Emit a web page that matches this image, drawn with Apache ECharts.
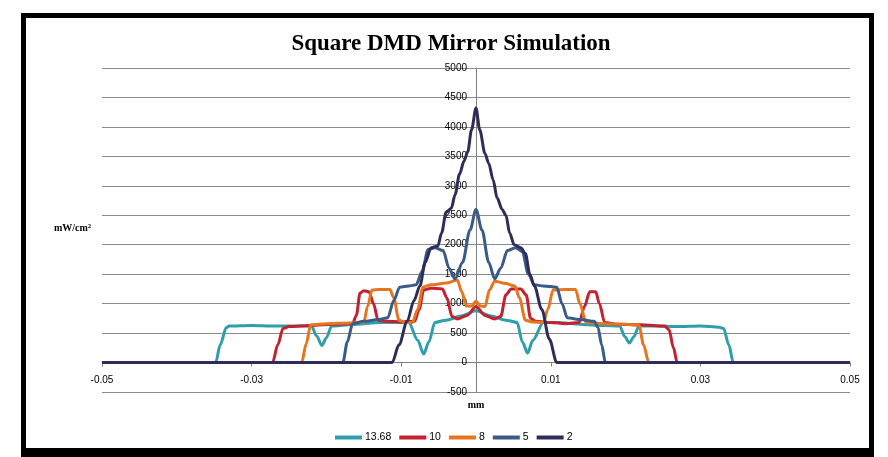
<!DOCTYPE html>
<html>
<head>
<meta charset="utf-8">
<script src="https://cdn.jsdelivr.net/npm/echarts@6/dist/echarts.min.js"></script>
<style>
html,body{margin:0;padding:0;background:#fff;}
#chart{width:888px;height:457px;}
</style>
</head>
<body>
<div id="chart"></div>
<script>
// ---- data (x in mm, y in mW/cm²) ----
const seriesNames = ['13.68', '10', '8', '5', '2'];
const xTickLabels = [-0.05, -0.03, -0.01, 0.01, 0.03, 0.05];

const s1368_x = [-0.05, -0.0348, -0.0342, -0.0334, -0.033, -0.030, -0.027, -0.024, -0.022, -0.0213, -0.0206, -0.0200, -0.0193, -0.017, -0.015, -0.013, -0.011, -0.009, -0.0078, -0.0070, -0.0063, -0.0055, -0.004, -0.002, 0,
                 0.002, 0.004, 0.0055, 0.0062, 0.0069, 0.0076, 0.009, 0.011, 0.013, 0.015, 0.017, 0.0192, 0.0199, 0.0205, 0.0211, 0.0218, 0.024, 0.027, 0.030, 0.0325, 0.0331, 0.0338, 0.0344, 0.05];
const s1368_y = [0, 0, 300, 590, 620, 630, 620, 620, 620, 450, 290, 420, 620, 640, 660, 680, 680, 680, 380, 145, 350, 680, 720, 790, 880,
                 790, 720, 680, 350, 160, 380, 680, 680, 660, 640, 630, 620, 440, 330, 440, 620, 620, 610, 620, 600, 580, 300, 0, 0];

const s10_x = [-0.05, -0.0272, -0.0265, -0.0258, -0.025, -0.022, -0.019, -0.0165, -0.0160, -0.0155, -0.0150, -0.0143, -0.0137, -0.0131, -0.012, -0.010, -0.0082, -0.0076, -0.0070, -0.006, -0.0045, -0.0039, -0.0032, -0.0025, -0.0012, 0,
               0.0012, 0.0025, 0.0033, 0.0040, 0.0047, 0.0060, 0.0067, 0.0073, 0.0080, 0.010, 0.012, 0.0138, 0.0145, 0.0152, 0.0160, 0.0165, 0.0172, 0.019, 0.022, 0.0252, 0.0258, 0.0264, 0.0269, 0.05];
const s10_y = [0, 0, 300, 580, 610, 630, 650, 660, 800, 1180, 1220, 1200, 1000, 720, 700, 690, 700, 900, 1230, 1260, 1250, 1100, 780, 740, 800, 950,
               800, 740, 780, 1150, 1250, 1250, 1150, 750, 700, 680, 660, 680, 950, 1200, 1200, 1000, 680, 650, 640, 620, 560, 250, 0, 0];

const s8_x = [-0.05, -0.0233, -0.0227, -0.0221, -0.020, -0.017, -0.0150, -0.0145, -0.0139, -0.013, -0.0115, -0.0110, -0.0103, -0.0095, -0.0085, -0.0078, -0.0071, -0.006, -0.004, -0.0025, -0.0019, -0.0013, -0.0006, 0,
              0.0006, 0.0012, 0.0018, 0.0025, 0.004, 0.0052, 0.0058, 0.0066, 0.0075, 0.009, 0.0096, 0.0103, 0.012, 0.0133, 0.0139, 0.0147, 0.017, 0.020, 0.0218, 0.0224, 0.0231, 0.05];
const s8_y = [0, 0, 320, 640, 660, 670, 680, 950, 1230, 1240, 1240, 1100, 720, 680, 680, 900, 1280, 1320, 1350, 1400, 1200, 960, 960, 1040,
              960, 950, 1230, 1380, 1340, 1300, 1100, 720, 690, 680, 900, 1230, 1240, 1240, 1000, 680, 660, 650, 630, 300, 0, 0];

const s5_x = [-0.05, -0.0178, -0.0172, -0.0165, -0.015, -0.013, -0.0118, -0.0110, -0.0102, -0.009, -0.008, -0.0072, -0.0064, -0.0055, -0.0044, -0.0036, -0.0028, -0.0018, -0.0008, 0,
              0.0008, 0.0017, 0.0025, 0.0033, 0.0042, 0.0053, 0.0062, 0.0070, 0.0078, 0.009, 0.0108, 0.0115, 0.0122, 0.014, 0.0158, 0.0163, 0.0168, 0.0173, 0.05];
const s5_y = [0, 0, 350, 660, 700, 730, 760, 1050, 1280, 1300, 1320, 1550, 1920, 1950, 1900, 1600, 1420, 1700, 2250, 2600,
              2250, 1700, 1420, 1600, 1900, 1950, 1880, 1500, 1320, 1300, 1280, 1000, 760, 730, 700, 600, 300, 0, 0];

const s2_x = [-0.05, -0.0112, -0.0103, -0.0092, -0.0083, -0.0075, -0.0068, -0.0060, -0.0051, -0.0046, -0.0040, -0.0033, -0.0028, -0.0022, -0.0016, -0.0011, -0.0006, 0,
              0.0005, 0.0012, 0.0017, 0.0023, 0.0028, 0.0035, 0.0040, 0.0045, 0.0051, 0.0060, 0.0066, 0.0072, 0.0078, 0.0088, 0.0098, 0.0108, 0.05];
const s2_y = [0, 0, 300, 700, 1050, 1300, 1700, 1950, 1980, 2200, 2550, 2620, 2850, 3200, 3420, 3580, 3950, 4320,
              3950, 3550, 3380, 3100, 2800, 2600, 2500, 2200, 2000, 1950, 1850, 1500, 1300, 900, 400, 0, 0];

const colors = ['#2f9eab', '#c4202f', '#e5761f', '#3a5a88', '#2e2d5a'];

function pairs(xs, ys) { return xs.map((x, i) => [x, ys[i]]); }
const seriesData = [pairs(s1368_x, s1368_y), pairs(s10_x, s10_y), pairs(s8_x, s8_y), pairs(s5_x, s5_y), pairs(s2_x, s2_y)];

const chart = echarts.init(document.getElementById('chart'), null, {renderer: 'canvas'});
const labelFont = 'Liberation Sans';
// grid geometry: plot spans 102..850 horizontally, 68..392 vertically
const gridLeft = 102, gridRight = 38, gridTop = 68, gridBottom = 65;
const plotW = 888 - gridLeft - gridRight, plotH = 457 - gridTop - gridBottom;
const xZeroOffset = -plotW / 2;              // move y axis to x = 0
const yZeroOffset = -plotH * 500 / 5500;     // move x axis to y = 0

chart.setOption({
  animation: false,
  backgroundColor: '#ffffff',
  title: {
    text: 'Square DMD Mirror Simulation',
    left: 446, top: 28, textAlign: 'center',
    textStyle: {fontFamily: 'Liberation Serif', fontWeight: 'bold', fontSize: 23, color: '#000'}
  },
  legend: {
    data: seriesNames,
    left: 330, top: 427,
    icon: 'rect', itemWidth: 27, itemHeight: 4, itemGap: 8,
    textStyle: {fontFamily: labelFont, fontSize: 10.5, color: '#000', padding: [0, 0, 0, -2]}
  },
  grid: {left: gridLeft, right: gridRight, top: gridTop, bottom: gridBottom, containLabel: false},
  xAxis: {
    type: 'value', min: -0.05, max: 0.05,
    position: 'bottom', offset: yZeroOffset,
    name: 'mm', nameLocation: 'middle', nameGap: 38,
    nameTextStyle: {fontFamily: 'Liberation Serif', fontWeight: 'bold', fontSize: 10, color: '#000'},
    axisLine: {onZero: false, lineStyle: {color: '#808080', width: 1}},
    axisTick: {show: true, length: 4, customValues: xTickLabels, lineStyle: {color: '#808080'}},
    axisLabel: {customValues: xTickLabels, fontFamily: labelFont, fontSize: 10, color: '#000', margin: 13,
                formatter: v => String(v)},
    splitLine: {show: false}
  },
  yAxis: {
    type: 'value', min: -500, max: 5000, interval: 500,
    position: 'left', offset: xZeroOffset,
    axisLine: {show: true, onZero: false, lineStyle: {color: '#808080', width: 1}},
    axisTick: {show: false},
    axisLabel: {fontFamily: labelFont, fontSize: 10, color: '#000', margin: 9, formatter: v => String(v)},
    splitLine: {show: true, lineStyle: {color: '#8c8c8c', width: 1}}
  },
  graphic: [
    {type: 'text', left: 54, top: 223, style: {text: 'mW/cm²', font: 'bold 10px "Liberation Serif"', fill: '#000'}},
    {type: 'rect', shape: {x: 21, y: 13, width: 853, height: 5}, style: {fill: '#000'}},
    {type: 'rect', shape: {x: 21, y: 13, width: 5, height: 444}, style: {fill: '#000'}},
    {type: 'rect', shape: {x: 869, y: 13, width: 5, height: 444}, style: {fill: '#000'}},
    {type: 'rect', shape: {x: 21, y: 448, width: 853, height: 9}, style: {fill: '#000'}}
  ],
  series: seriesNames.map((n, i) => ({
    name: n, type: 'line', data: seriesData[i],
    smooth: 0.3, smoothMonotone: 'x',
    showSymbol: false, symbol: 'none',
    lineStyle: {width: 3, color: colors[i]},
    itemStyle: {color: colors[i]},
    z: 2 + i
  }))
});
</script>
</body>
</html>
